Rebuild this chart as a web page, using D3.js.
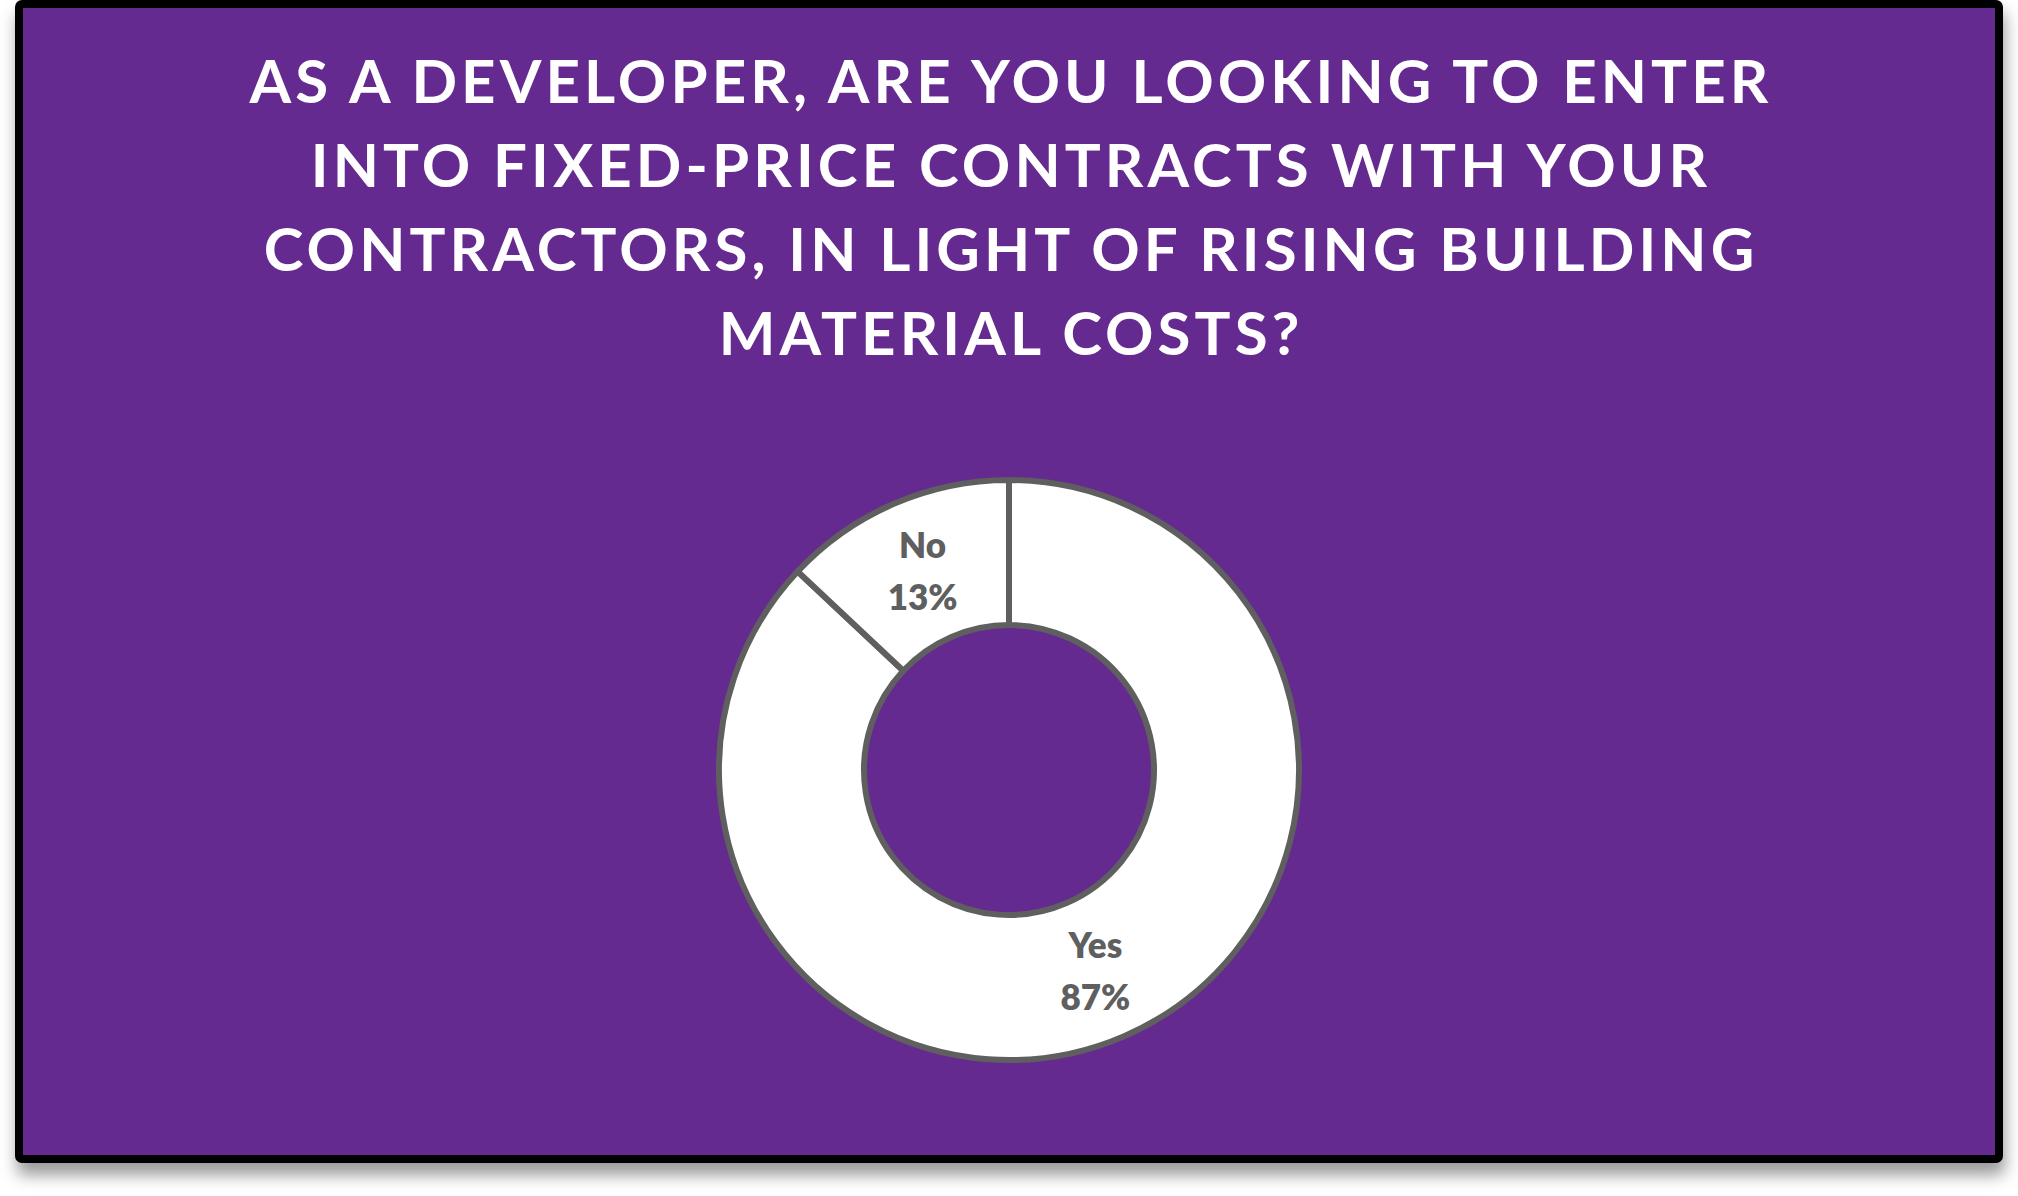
<!DOCTYPE html>
<html>
<head>
<meta charset="utf-8">
<script src="https://cdn.jsdelivr.net/npm/d3@7"></script>
<style>
html,body{margin:0;padding:0;background:#ffffff;}
svg{display:block;}
</style>
</head>
<body>
<script>
const titleLines = [
  "AS A DEVELOPER, ARE YOU LOOKING TO ENTER",
  "INTO FIXED-PRICE CONTRACTS WITH YOUR",
  "CONTRACTORS, IN LIGHT OF RISING BUILDING",
  "MATERIAL COSTS?"
];
const categories = ["Yes", "No"];
const values = [87, 13];
const percentLabels = ["87%", "13%"];

const W = 2018, H = 1196;
const svg = d3.select("body").append("svg").attr("width", W).attr("height", H);

const defs = svg.append("defs");
const f = defs.append("filter").attr("id", "sh").attr("x", "-5%").attr("y", "-5%").attr("width", "110%").attr("height", "115%");
f.append("feDropShadow").attr("dx", 2).attr("dy", 12).attr("stdDeviation", 8)
  .attr("flood-color", "#000").attr("flood-opacity", 0.4);

// frame
svg.append("rect")
  .attr("x", 19).attr("y", 4).attr("width", 1980).attr("height", 1155)
  .attr("rx", 3)
  .attr("fill", "#652C8F").attr("stroke", "#000").attr("stroke-width", 8)
  .attr("filter", "url(#sh)");

// title
const cx = 1009;
const title = svg.append("g");
const lineY = d3.scaleLinear().domain([0, 1]).range([103, 187]);
title.selectAll("text").data(titleLines).join("text")
  .attr("x", cx + 2).attr("y", (d, i) => lineY(i))
  .attr("text-anchor", "middle")
  .attr("fill", "#ffffff")
  .attr("font-family", "Lato, 'Open Sans', sans-serif")
  .attr("font-weight", "bold")
  .attr("font-size", 60)
  .style("letter-spacing", "4.1px")
  .text(d => d);

// donut
const cy = 770;
const rOuter = 290, rInner = 145;
const pie = d3.pie().sort(null).value(d => d.v);
const data = categories.map((c, i) => ({c, v: values[i], p: percentLabels[i]}));
const arcs = pie(data);
const arc = d3.arc().innerRadius(rInner).outerRadius(rOuter);
const g = svg.append("g").attr("transform", `translate(${cx},${cy})`);
g.selectAll("path").data(arcs).join("path")
  .attr("d", arc)
  .attr("fill", "#ffffff")
  .attr("stroke", "#5F5F5F")
  .attr("stroke-width", 6)
  .attr("stroke-linejoin", "miter");

const lbl = g.selectAll("g.lbl").data(arcs).join("g").attr("class", "lbl")
  .attr("transform", d => `translate(${arc.centroid(d)})`);
lbl.append("text").attr("y", -12).attr("text-anchor", "middle")
  .attr("fill", "#5F5F5F").attr("font-family", "Lato, 'Open Sans', sans-serif")
  .attr("font-weight", 800).attr("font-size", 35)
  .text(d => d.data.c);
lbl.append("text").attr("y", 40).attr("text-anchor", "middle")
  .attr("fill", "#5F5F5F").attr("font-family", "Lato, 'Open Sans', sans-serif")
  .attr("font-weight", 800).attr("font-size", 35)
  .text(d => d.data.p);
</script>
</body>
</html>
